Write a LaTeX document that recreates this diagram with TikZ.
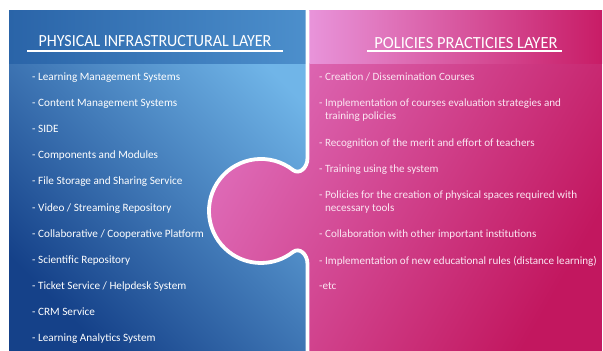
\documentclass[tikz,border=0pt]{standalone}
\usepackage{fontspec}
\setmainfont{Carlito}
\newfontfamily\titlefontA[FakeStretch=0.94]{Carlito}
\newfontfamily\titlefontB[FakeStretch=0.97]{Carlito}
\definecolor{bodyBlueLight}{HTML}{70B5E8}
\definecolor{bodyBlueDark}{HTML}{154189}
\definecolor{bandBlueL}{HTML}{2A64A8}
\definecolor{bandBlueR}{HTML}{4C8FCC}
\definecolor{bodyPinkLight}{HTML}{E070BD}
\definecolor{bodyPinkDark}{HTML}{C2175F}
\definecolor{bandPinkL}{HTML}{E894DA}
\definecolor{bandPinkR}{HTML}{C81C66}
\definecolor{pinkText}{HTML}{FBE6F2}
\begin{document}
\begin{tikzpicture}[x=1pt,y=-1pt,
  item/.style={anchor=base west, text=white, inner sep=0pt, align=left,
    font=\fontsize{11.2}{12.8}\selectfont},
  pitem/.style={item, text=pinkText, font=\fontsize{11.1}{12.8}\selectfont},
  ttl/.style={anchor=base, text=white, inner sep=0pt},
  uline/.style={white, line width=1.8pt}]
\useasboundingbox (0,0) rectangle (603,351);
% blue panel
\shade[top color=bodyBlueLight, bottom color=bodyBlueDark, shading angle=-45]
  (9,10) rectangle (306,351);
\shade[left color=bandBlueL, right color=bandBlueR] (9,10) rectangle (306,63);
% pink piece
\def\knobedge{(307.5,10) -- (307.5,158) .. controls (307.5,168) and (299.3,174.9) .. (293,170)
  arc[start angle=-52, end angle=-308, radius=52]
  .. controls (299.3,247.1) and (307.5,254) .. (307.5,264) -- (307.5,351)}
\shade[top color=bodyPinkLight, bottom color=bodyPinkDark, shading angle=60]
  \knobedge -- (602,351) -- (602,10) -- cycle;
\shade[left color=bandPinkL, right color=bandPinkR] (309.5,10) rectangle (602,63);
\draw[white, line width=3.8pt] \knobedge;
% titles
\node[ttl, font=\titlefontA\fontsize{17}{20}\selectfont] (t1) at (155,46) {PHYSICAL INFRASTRUCTURAL LAYER};
\draw[uline] (27,51) -- (283,51);
\node[ttl, font=\titlefontB\fontsize{17}{20}\selectfont] (t2) at (466,48) {POLICIES PRACTICIES LAYER};
\draw[uline] (367,51) -- (562,51);
% left list
\foreach \t [count=\i] in {{- Learning Management Systems},{- Content Management Systems},{- SIDE},
  {- Components and Modules},{- File Storage and Sharing Service},{- Video / Streaming Repository},
  {- Collaborative / Cooperative Platform},{- Scientific Repository},{- Ticket Service / Helpdesk System},
  {- CRM Service},{- Learning Analytics System}}
  \node[item] (l\i) at (32,{80.5+26.1*(\i-1)}) {\t};
% right list
\node[pitem] (r1) at (319,80.5) {- Creation / Dissemination Courses};
\node[pitem] (r2) at (319,119.3) {- Implementation of courses evaluation strategies and\\\hphantom{- }training policies};
\node[pitem] (r3) at (319,146.5) {- Recognition of the merit and effort of teachers};
\node[pitem] (r4) at (319,172.5) {- Training using the system};
\node[pitem] (r5) at (319,211.3) {- Policies for the creation of physical spaces required with\\\hphantom{- }necessary tools};
\node[pitem] (r6) at (319,237.5) {- Collaboration with other important institutions};
\node[pitem] (r7) at (319,264.5) {- Implementation of new educational rules (distance learning)};
\node[pitem] (r8) at (319,289.5) {-etc};
\end{tikzpicture}
\end{document}
